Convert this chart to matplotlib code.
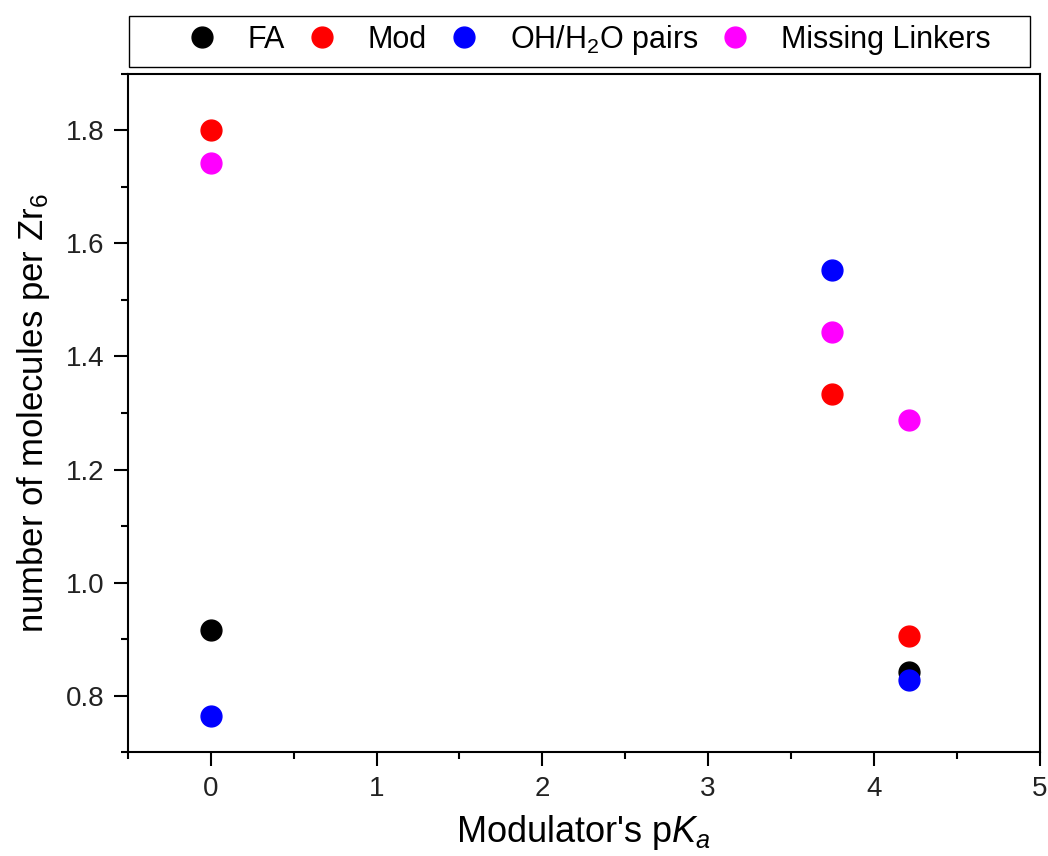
import matplotlib
matplotlib.use("Agg")
from matplotlib import pyplot as plt
from matplotlib.patches import Rectangle
from matplotlib.ticker import MultipleLocator, FormatStrFormatter

plt.rcParams['font.family'] = ['Liberation Sans', 'DejaVu Sans']
plt.rcParams['mathtext.fontset'] = 'custom'
plt.rcParams['mathtext.rm'] = 'Liberation Sans'
plt.rcParams['mathtext.it'] = 'Liberation Sans:italic'

# modulator pKa values and molecules per Zr6 cluster
fa_pka = [0.0, 4.21]
fa_vals = [0.916, 0.843]

mod_pka = [0.0, 3.75, 4.21]
mod_vals = [1.80, 1.333, 0.905]

oh_pka = [0.0, 3.75, 4.21]
oh_vals = [0.764, 1.553, 0.828]

ml_pka = [0.0, 3.75, 4.21]
ml_vals = [1.742, 1.443, 1.288]

series = [
    ('FA', fa_pka, fa_vals, 'black'),
    ('Mod', mod_pka, mod_vals, 'red'),
    ('OH/H$_2$O pairs', oh_pka, oh_vals, 'blue'),
    ('Missing Linkers', ml_pka, ml_vals, 'magenta'),
]

W, H = 1048, 856
fig = plt.figure(figsize=(W / 100, H / 100), dpi=100)
ax = fig.add_axes([0.122, 0.121, 0.870, 0.793])

for label, xs, ys, color in series:
    ax.plot(xs, ys, 'o', color=color, markersize=15, label=label, linestyle='none')

ax.set_xlim(-0.5, 5)
ax.set_ylim(0.7, 1.9)
ax.xaxis.set_major_locator(MultipleLocator(1))
ax.xaxis.set_minor_locator(MultipleLocator(0.5))
ax.yaxis.set_major_locator(MultipleLocator(0.2))
ax.yaxis.set_minor_locator(MultipleLocator(0.1))
ax.yaxis.set_major_formatter(FormatStrFormatter('%.1f'))

for spine in ax.spines.values():
    spine.set_linewidth(1.5)
ax.tick_params(which='major', direction='out', length=10, width=1.5, labelsize=20,
               pad=7, labelcolor='#222222')
ax.tick_params(which='minor', direction='out', length=5, width=1.5)

ax.set_xlabel("Modulator's p$K_a$", fontsize=26, labelpad=8)
ax.set_ylabel('number of molecules per Zr$_6$', fontsize=25, labelpad=10)

# legend sits in its own box above the axes
leg = fig.legend(loc='center left', bbox_to_anchor=(165 / W, 1 - 40 / H),
                 ncol=4, fontsize=22, frameon=False, handlelength=2.42,
                 handletextpad=0.29, columnspacing=0.0, borderpad=0, borderaxespad=0)
fig.patches.append(Rectangle((129 / W, 1 - 67 / H), (1030 - 129) / W, 51 / H,
                             transform=fig.transFigure, fill=False,
                             edgecolor='black', linewidth=1.0))

fig.savefig('out.png', dpi=100)
